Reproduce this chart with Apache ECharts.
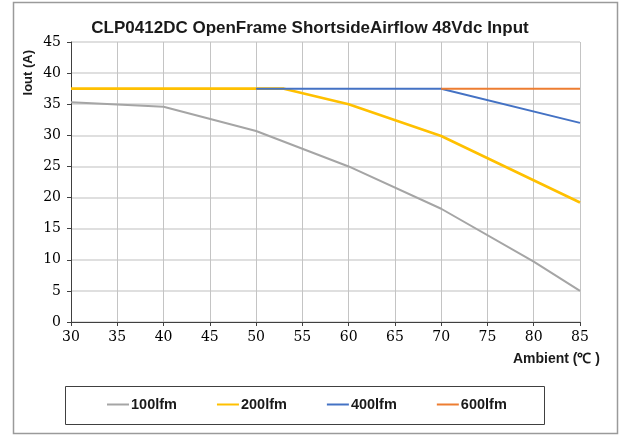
<!DOCTYPE html>
<html>
<head>
<meta charset="utf-8">
<script src="https://cdn.jsdelivr.net/npm/echarts@6/dist/echarts.min.js"></script>
<style>
html,body{margin:0;padding:0;background:#fff;}
#c{width:620px;height:436px;}
</style>
</head>
<body>
<div id="c"></div>
<script>
var titleText = 'CLP0412DC OpenFrame ShortsideAirflow 48Vdc Input';
var seriesNames = ['100lfm', '200lfm', '400lfm', '600lfm'];
var temps100 = [30, 40, 50, 60, 70, 80, 85];
var iout100 = [35.3, 34.6, 30.7, 25.0, 18.2, 9.7, 5.0];
var temps200 = [30, 53, 60, 70, 85];
var iout200 = [37.5, 37.5, 35.0, 29.9, 19.2];
var temps400 = [50, 70, 85];
var iout400 = [37.5, 37.5, 32.0];
var temps600 = [70, 85];
var iout600 = [37.5, 37.5];
var colors = ['#a5a5a5', '#ffc000', '#4472c4', '#ed7d31'];

function pairs(xs, ys) { return xs.map(function (x, i) { return [x, ys[i]]; }); }

var chart = echarts.init(document.getElementById('c'), null, {renderer: 'canvas'});
var serif = '"DejaVu Serif", serif';
var sans = '"Liberation Sans", Arial, sans-serif';
var datasets = [pairs(temps100, iout100), pairs(temps200, iout200), pairs(temps400, iout400), pairs(temps600, iout600)];
var widths = [2, 2.6, 2, 2];

chart.setOption({
  animation: false,
  backgroundColor: '#fff',
  title: {
    text: titleText, left: 'center', top: 15,
    textStyle: {fontFamily: sans, fontWeight: 'bold', fontSize: 17, color: '#1a1a1a'}
  },
  graphic: [
    {type: 'rect', shape: {x: 13.5, y: 2.5, width: 604, height: 431}, style: {fill: 'none', stroke: '#9a9a9a', lineWidth: 1.5}, silent: true},
    {type: 'rect', shape: {x: 65.5, y: 386.5, width: 479, height: 38}, style: {fill: 'none', stroke: '#404040', lineWidth: 1}, silent: true}
  ],
  legend: {
    data: seriesNames.map(function (n) { return {name: n, icon: 'rect'}; }),
    left: 107, top: 397, itemGap: 40, itemWidth: 22, itemHeight: 2,
    padding: 0,
    textStyle: {fontFamily: sans, fontWeight: 'bold', fontSize: 14.5, color: '#1a1a1a', padding: [0, 0, 0, -3]}
  },
  grid: {left: 71, right: 40, top: 42, bottom: 114, containLabel: false},
  xAxis: {
    type: 'value', min: 30, max: 85, interval: 5,
    name: 'Ambient (\u2103 )', nameLocation: 'end', nameGap: 0,
    nameTextStyle: {fontFamily: sans, fontWeight: 'bold', fontSize: 14, color: '#1a1a1a', align: 'right', verticalAlign: 'top', padding: [30, -20, 0, 0]},
    axisLine: {show: true, lineStyle: {color: '#404040', width: 1}},
    axisTick: {show: true, length: 4, lineStyle: {color: '#404040'}},
    axisLabel: {fontFamily: serif, fontSize: 14, color: '#000', margin: 8},
    splitLine: {show: true, lineStyle: {color: '#c4c4c4', width: 1}}
  },
  yAxis: {
    type: 'value', min: 0, max: 45, interval: 5,
    name: 'Iout (A)', nameLocation: 'end', nameRotate: 90, nameGap: 0,
    nameTextStyle: {fontFamily: sans, fontWeight: 'bold', fontSize: 13, color: '#1a1a1a', align: 'right', verticalAlign: 'bottom', padding: [0, 8, 36, 0]},
    axisLine: {show: true, lineStyle: {color: '#404040', width: 1}},
    axisTick: {show: true, length: 4, lineStyle: {color: '#404040'}},
    axisLabel: {fontFamily: serif, fontSize: 14, color: '#000', margin: 10},
    splitLine: {show: true, lineStyle: {color: '#d4d4d4', width: 1.5}}
  },
  series: seriesNames.map(function (n, i) {
    return {
      name: n, type: 'line', data: datasets[i], symbol: 'none', showSymbol: false,
      color: colors[i], lineStyle: {color: colors[i], width: widths[i]}, z: 2 + (i === 1 ? 0 : i)
    };
  })
});
</script>
</body>
</html>
